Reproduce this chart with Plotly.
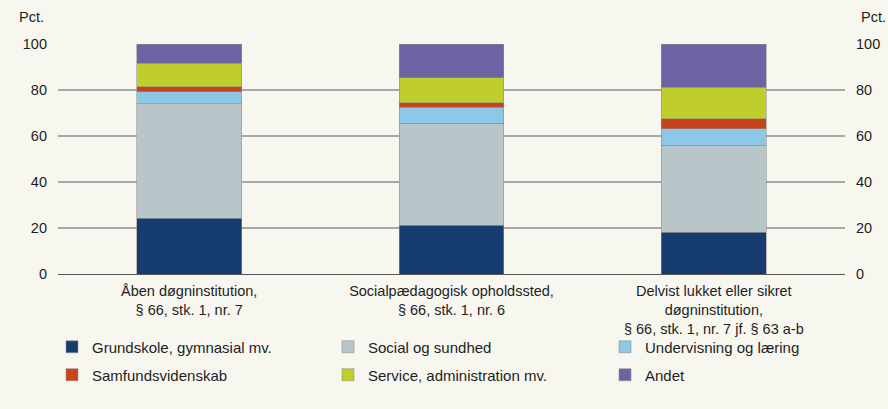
import plotly.graph_objects as go

categories = [
    "Åben døgninstitution,<br>§ 66, stk. 1, nr. 7",
    "Socialpædagogisk opholdssted,<br>§ 66, stk. 1, nr. 6",
    "Delvist lukket eller sikret<br>døgninstitution,<br>§ 66, stk. 1, nr. 7 jf. § 63 a-b",
]
series_names = [
    "Grundskole, gymnasial mv.",
    "Social og sundhed",
    "Undervisning og læring",
    "Samfundsvidenskab",
    "Service, administration mv.",
    "Andet",
]
grundskole = [24.3, 21.1, 18.2]
social = [49.8, 44.5, 37.7]
undervisning = [5.1, 7.0, 7.3]
samfund = [2.2, 1.8, 4.3]
service = [10.2, 11.0, 13.6]
andet = [8.4, 14.6, 18.9]
y_ticks = [0, 20, 40, 60, 80, 100]

values = [grundskole, social, undervisning, samfund, service, andet]
colors = ["#153B6F", "#B8C6CA", "#8DC8E8", "#C8431A", "#BFCE2A", "#6C63A4"]

FONT = "Liberation Sans, Arial, sans-serif"
TXT = "#1E1E1E"
BG = "#F7F7F0"

W, H = 888, 409
# legend text left positions (px) and row centres (px)
leg_text_x = [92, 368, 645, 92, 368, 645]
leg_row_y = [347, 347, 347, 375, 375, 375]
TEXT_OFFSET = 40

fig = go.Figure()
legend_ids = ["legend"] + [f"legend{i}" for i in range(2, 7)]
for name, vals, col, lg in zip(series_names, values, colors, legend_ids):
    fig.add_trace(go.Bar(
        x=categories, y=vals, name=name, legend=lg,
        marker=dict(color=col, line=dict(color="rgba(140,140,140,0.7)", width=0.8)),
        width=0.4,
    ))
fig.add_trace(go.Scatter(x=categories, y=[None, None, None], yaxis="y2",
                         showlegend=False, hoverinfo="skip"))

legend_layout = {}
for lg, tx, ty in zip(legend_ids, leg_text_x, leg_row_y):
    legend_layout[lg] = dict(
        orientation="h", xref="container", yref="container",
        x=(tx - TEXT_OFFSET) / W, y=1 - ty / H, xanchor="left", yanchor="middle",
        itemwidth=30, font=dict(size=15, color=TXT), bgcolor="rgba(0,0,0,0)",
    )

fig.update_layout(
    width=W, height=H,
    margin=dict(l=58, r=43, t=44, b=135, autoexpand=False),
    paper_bgcolor=BG, plot_bgcolor=BG,
    barmode="stack",
    font=dict(family=FONT, size=14, color=TXT),
    xaxis=dict(showgrid=False, showline=True, linecolor="#555555", linewidth=1,
               ticks="", automargin=False, ticklabelstandoff=4,
               tickfont=dict(size=14.5, color=TXT)),
    yaxis=dict(range=[0, 100], tickvals=y_ticks, showgrid=True, automargin=False,
               gridcolor="#A8A8A8", gridwidth=1.5, zeroline=False,
               ticks="", ticklabelstandoff=10, tickfont=dict(size=14.5, color=TXT)),
    yaxis2=dict(range=[0, 100], tickvals=y_ticks, overlaying="y", side="right",
                showgrid=False, zeroline=False, ticks="", ticklabelstandoff=10,
                automargin=False, tickfont=dict(size=14.5, color=TXT)),
    annotations=[
        dict(text="Pct.", xref="paper", yref="paper", x=-0.0153, y=1.117,
             xanchor="right", yanchor="middle", showarrow=False,
             font=dict(size=14.5, color=TXT)),
        dict(text="Pct.", xref="paper", yref="paper", x=1.0178, y=1.117,
             xanchor="left", yanchor="middle", showarrow=False,
             font=dict(size=14.5, color=TXT)),
    ],
    **legend_layout,
)

fig.write_html(
    "out.html",
    config={"displayModeBar": False},
    post_script="document.body.style.margin='0';document.body.style.overflow='hidden';",
)
